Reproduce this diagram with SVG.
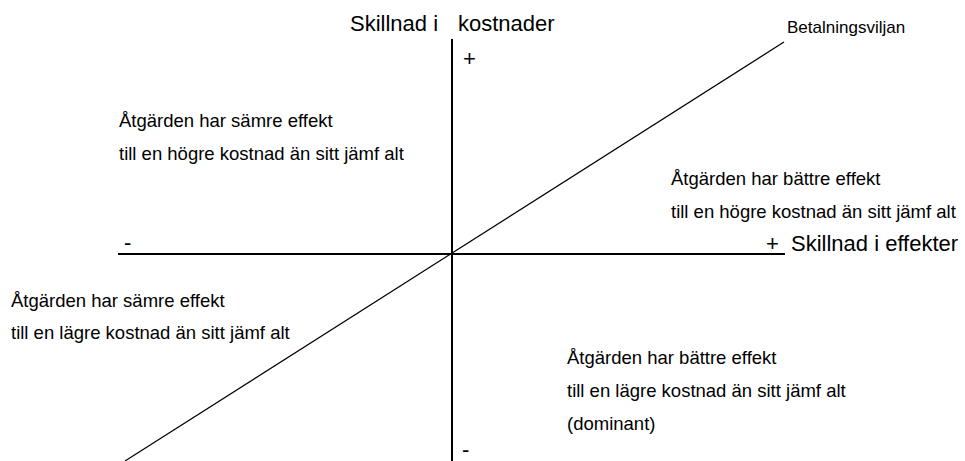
<svg xmlns="http://www.w3.org/2000/svg" width="965" height="461" viewBox="0 0 965 461">
<style>
.t{font-family:"Liberation Sans",Arial,sans-serif;fill:#000}
.q{font-size:18.5px}
.ax{font-size:22px}
.sg{font-size:22px}
.axis{stroke:#000;stroke-width:2;fill:none}
.diag{stroke:#000;stroke-width:1.2;fill:none}
</style>
<rect width="965" height="461" fill="#fff"/>
<g id="connectors">
<line class="axis" x1="452" y1="39" x2="452" y2="461"/>
<line class="axis" x1="118" y1="254" x2="785" y2="254"/>
<line class="diag" x1="125" y1="461" x2="784" y2="42"/>
</g>
<g id="axis-labels">
<text class="t ax" x="350" y="31">Skillnad i</text>
<text class="t ax" x="458" y="31">kostnader</text>
<text class="t sg" x="463" y="66">+</text>
<text class="t sg" x="462" y="457">-</text>
<text class="t sg" x="124" y="250">-</text>
<text class="t sg" x="766" y="251">+</text>
<text class="t ax" x="791" y="251">Skillnad i effekter</text>
<text class="t" x="787" y="33" font-size="17">Betalningsviljan</text>
</g>
<g id="q-top-left">
<text class="t q" x="119" y="127">Åtgärden har sämre effekt</text>
<text class="t q" x="119" y="160">till en högre kostnad än sitt jämf alt</text>
</g>
<g id="q-top-right">
<text class="t q" x="671" y="185">Åtgärden har bättre effekt</text>
<text class="t q" x="671" y="218">till en högre kostnad än sitt jämf alt</text>
</g>
<g id="q-bottom-left">
<text class="t q" x="11" y="307">Åtgärden har sämre effekt</text>
<text class="t q" x="11" y="339">till en lägre kostnad än sitt jämf alt</text>
</g>
<g id="q-bottom-right">
<text class="t q" x="567" y="364">Åtgärden har bättre effekt</text>
<text class="t q" x="567" y="397">till en lägre kostnad än sitt jämf alt</text>
<text class="t q" x="567" y="430">(dominant)</text>
</g>
</svg>
